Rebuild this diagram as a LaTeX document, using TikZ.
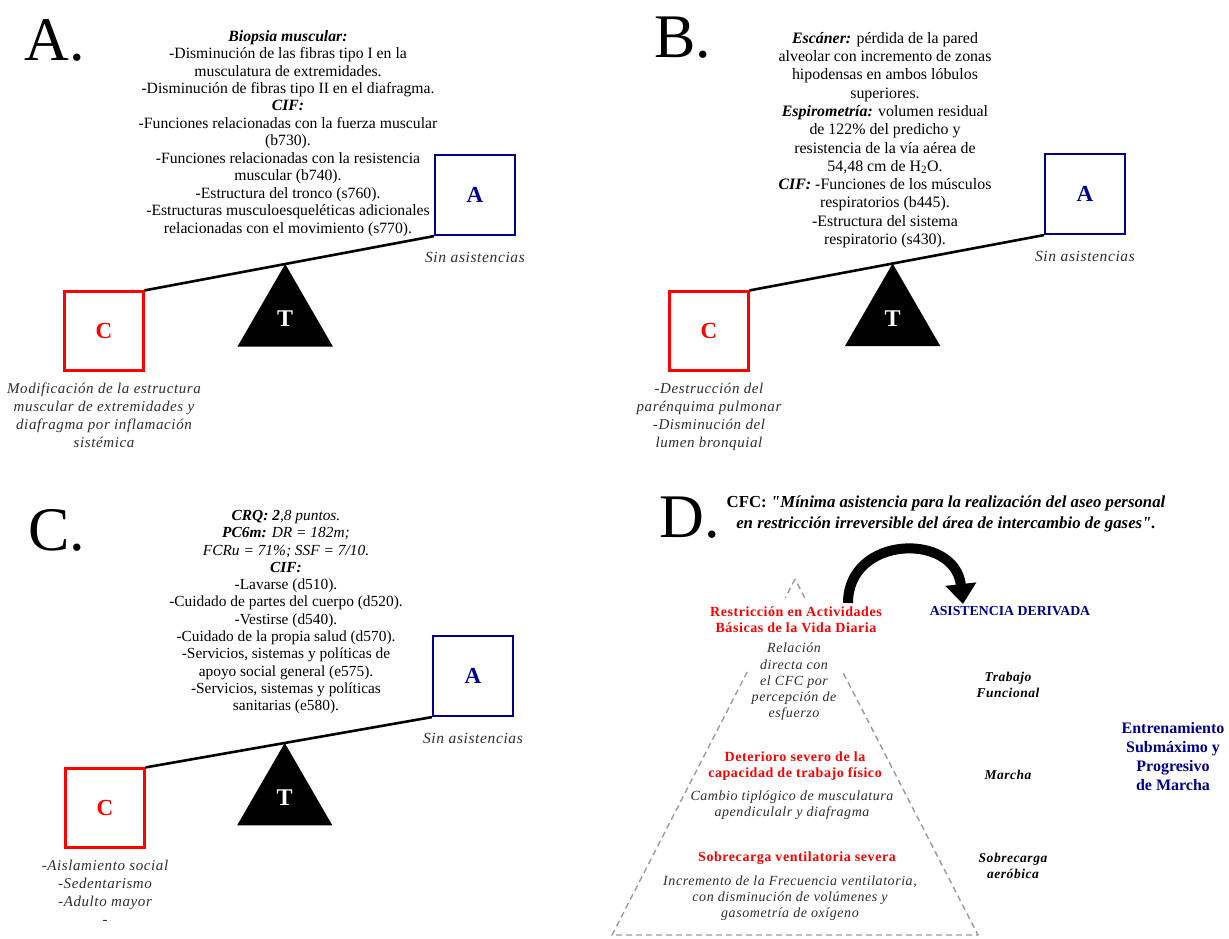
\documentclass[tikz,border=0pt]{standalone}
\usepackage{fontspec}
\setmainfont{Liberation Serif}
\newfontfamily\loosefont{Liberation Serif}[LetterSpace=4]
\usepackage{xcolor}
\usetikzlibrary{calc,positioning,shapes.geometric,arrows.meta}
\definecolor{navyA}{RGB}{0,0,140}
\definecolor{redC}{RGB}{255,0,0}
\definecolor{softblack}{RGB}{45,45,45}
\definecolor{pyrgray}{RGB}{155,155,155}

\begin{document}
\begin{tikzpicture}[x=1pt,y=-1pt,
    panel/.style={inner sep=0pt,font=\fontsize{62}{62}\selectfont},
    infotext/.style={anchor=north,align=center,inner sep=0pt,font=\fontsize{15.7}{17.45}\selectfont},
    abox/.style={draw=navyA,line width=2.2pt,minimum size=80pt,inner sep=0pt,text=navyA,font=\fontsize{23}{23}\selectfont\bfseries},
    cbox/.style={draw=redC,line width=2.2pt,minimum size=79pt,inner sep=0pt,text=redC,font=\fontsize{23}{23}\selectfont\bfseries},
    fulcrum/.style={regular polygon,regular polygon sides=3,minimum size=110pt,inner sep=0pt,outer sep=0pt,fill=black,text=white,font=\fontsize{24}{24}\selectfont\bfseries},
    beam/.style={line width=2.6pt},
    noteit/.style={align=center,inner sep=0pt,text=softblack,font=\fontsize{15}{18}\selectfont\loosefont\itshape},
    pyr/.style={draw=pyrgray,line width=1.4pt,dash pattern=on 6pt off 4pt},
    pyrtitle/.style={align=center,inner sep=0pt,text=redC,font=\fontsize{14}{16}\selectfont\loosefont\bfseries},
    pyrnote/.style={align=center,inner sep=0pt,text=softblack,font=\fontsize{14}{16.3}\selectfont\loosefont\itshape},
    sidelabel/.style={align=center,inner sep=0pt,font=\fontsize{13.5}{16.5}\selectfont\loosefont\bfseries\itshape},
    bluetext/.style={align=center,inner sep=0pt,text=navyA,font=\bfseries},
    bigarrow/.style={line width=10pt,-{Triangle[width=30pt,length=20pt]}}]
  \useasboundingbox (0,0) rectangle (1229,938);

  % A. muscular
  \node[panel] (pA) at (55,40) {A.};
  \node[infotext] (infoA) at (288,30) {\textbf{\textit{Biopsia muscular:}}\\
    -Disminución de las fibras tipo I en la\\
    musculatura de extremidades.\\
    -Disminución de fibras tipo II en el diafragma.\\
    \textbf{\textit{CIF:}}\\
    -Funciones relacionadas con la fuerza muscular\\
    (b730).\\
    -Funciones relacionadas con la resistencia\\
    muscular (b740).\\
    -Estructura del tronco (s760).\\
    -Estructuras musculoesqueléticas adicionales\\
    relacionadas con el movimiento (s770).};
  \node[abox] (aA) at (475,195) {A};
  \node[cbox] (cA) at (104,331) {C};
  \draw[beam] (cA.north east) -- (aA.south west);
  \node[fulcrum,anchor=corner 1] (tA) at ($(cA.north east)!0.486!(aA.south west)$) {T};
  \node[noteit,font=\fontsize{15.5}{18}\selectfont\loosefont\itshape,below=16pt of aA] (sA) {Sin asistencias};
  \node[noteit,below=11pt of cA] (dA) {Modificación de la estructura\\muscular de extremidades y\\diafragma por inflamación\\sistémica};

  % B. respiratorio
  \node[panel] (pB) at (683,38) {B.};
  \node[infotext,font=\fontsize{15.9}{18.3}\selectfont] (infoB) at (885,32) {\textbf{\textit{Escáner:}} pérdida de la pared\\
    alveolar con incremento de zonas\\
    hipodensas en ambos lóbulos\\
    superiores.\\
    \textbf{\textit{Espirometría:}} volumen residual\\
    de 122\% del predicho y\\
    resistencia de la vía aérea de\\
    54,48 cm de H\textsubscript{2}O.\\
    \textbf{\textit{CIF:}} -Funciones de los músculos\\
    respiratorios (b445).\\
    -Estructura del sistema\\
    respiratorio (s430).};
  \node[abox] (aB) at (1085,194) {A};
  \node[cbox] (cB) at (709,331) {C};
  \draw[beam] (cB.north east) -- (aB.south west);
  \node[fulcrum,anchor=corner 1] (tB) at ($(cB.north east)!0.486!(aB.south west)$) {T};
  \node[noteit,font=\fontsize{15.5}{18}\selectfont\loosefont\itshape,below=16pt of aB] (sB) {Sin asistencias};
  \node[noteit,below=11pt of cB] (dB) {-Destrucción del\\parénquima pulmonar\\-Disminución del\\lumen bronquial};

  % C. actividades
  \node[panel] (pC) at (57,530) {C.};
  \node[infotext,font=\fontsize{15.4}{17.3}\selectfont] (infoC) at (286,510) {\textbf{\textit{CRQ: 2}}\textit{,8 puntos.}\\
    \textbf{\textit{PC6m:}} \textit{DR = 182m;}\\
    \textit{FCRu = 71\%; SSF = 7/10.}\\
    \textbf{\textit{CIF:}}\\
    -Lavarse (d510).\\
    -Cuidado de partes del cuerpo (d520).\\
    -Vestirse (d540).\\
    -Cuidado de la propia salud (d570).\\
    -Servicios, sistemas y políticas de\\
    apoyo social general (e575).\\
    -Servicios, sistemas y políticas\\
    sanitarias (e580).};
  \node[abox] (aC) at (473,676) {A};
  \node[cbox] (cC) at (105,808) {C};
  \draw[beam] (cC.north east) -- (aC.south west);
  \node[fulcrum,anchor=corner 1] (tC) at ($(cC.north east)!0.486!(aC.south west)$) {T};
  \node[noteit,font=\fontsize{15.5}{18}\selectfont\loosefont\itshape,below=16pt of aC] (sC) {Sin asistencias};
  \node[noteit,below=11pt of cC] (dC) {-Aislamiento social\\-Sedentarismo\\-Adulto mayor\\-};

  % D. piramide
  \node[panel] (pD) at (690,518) {D.};
  \node[infotext,font=\fontsize{16.8}{21}\selectfont\bfseries] (cfc) at (946,496) {CFC: \textit{\textquotedbl Mínima asistencia para la realización del aseo personal}\\
    \textit{en restricción irreversible del área de intercambio de gases\textquotedbl.}};
  \coordinate (apex) at (795,579);
  \coordinate (bl) at (612,935);
  \coordinate (br) at (978,935);
  \draw[pyr] (apex) -- ($(apex)!0.053!(bl)$) ($(apex)!0.261!(bl)$) -- (bl) -- (br)
    -- ($(apex)!0.261!(br)$) ($(apex)!0.053!(br)$) -- (apex);
  \node[pyrtitle] (restr) at (796,620) {Restricción en Actividades\\Básicas de la Vida Diaria};
  \node[pyrnote] (rel) at (794,682) {Relación\\directa con\\el CFC por\\percepción de\\esfuerzo};
  \node[pyrtitle] (deter) at (795,766) {Deterioro severo de la\\capacidad de trabajo físico};
  \node[pyrnote] (cambio) at (792,805) {Cambio tiplógico de musculatura\\apendiculalr y diafragma};
  \node[pyrtitle] (sobre) at (797,858) {Sobrecarga ventilatoria severa};
  \node[pyrnote] (incr) at (790,898) {Incremento de la Frecuencia ventilatoria,\\con disminución de volúmenes y\\gasometría de oxígeno};

  \node[bluetext,font=\fontsize{13.8}{15}\selectfont\bfseries] (asis) at (1010,611) {ASISTENCIA DERIVADA};
  \coordinate (arcS) at (848,603);
  \coordinate (arcE) at (963,604);
  \draw[bigarrow] (arcS) .. controls +(0,-68) and +(-8,-72) .. (arcE);

  \node[sidelabel] (trab) at (1008,685) {Trabajo\\Funcional};
  \node[sidelabel] (marcha) at (1008,775) {Marcha};
  \node[sidelabel] (aerob) at (1013,866) {Sobrecarga\\aeróbica};
  \node[bluetext,font=\fontsize{16}{19}\selectfont\bfseries] (entren) at (1173,757) {Entrenamiento\\Submáximo y\\Progresivo\\de Marcha};
\end{tikzpicture}
\end{document}
